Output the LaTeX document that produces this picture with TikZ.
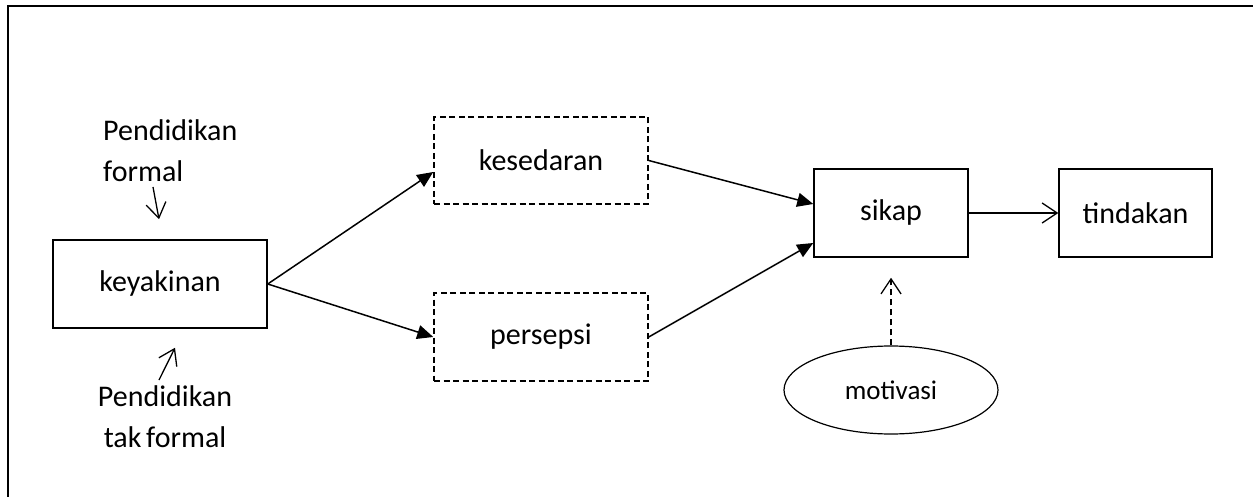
\documentclass[tikz,border=0pt]{standalone}
\usepackage{fontspec}
\setmainfont{Carlito}
\usetikzlibrary{arrows.meta,shapes.geometric}
\begin{document}
\begin{tikzpicture}[x=1pt,y=-1pt,
  box/.style={draw, line width=1.5pt, rectangle, inner sep=0pt, font=\fontsize{30}{36}\selectfont},
  dbox/.style={box, dash pattern=on 6pt off 3.5pt},
  lbl/.style={inner sep=0pt, font=\fontsize{30}{41}\selectfont},
  solidarrow/.style={line width=1.5pt, -{Triangle[length=16pt,width=14pt]}},
  openarrow/.style={line width=1.3pt, -{Straight Barb[length=15pt,width=20pt]}},
]
\useasboundingbox (0,0) rectangle (1253,497);
% frame (top and left only)
\draw[line width=2pt] (1260,6.5) -- (7.5,6.5) -- (7.5,505);

% boxes
\node[box, minimum width=214pt, minimum height=88pt] (key) at (160,284) {keyakinan};
\node[dbox, minimum width=214pt, minimum height=87pt] (kes) at (541,160.5) {kesedaran};
\node[dbox, minimum width=214pt, minimum height=88pt] (per) at (541,337) {persepsi};
\node[box, minimum width=154pt, minimum height=88pt] (sik) at (891,213) {sikap};
\node[box, minimum width=153pt, minimum height=88pt] (tin) at (1135.5,213) {tindakan};
\node[draw, ellipse, line width=1.2pt, inner sep=0pt, minimum width=214pt, minimum height=88pt,
      font=\fontsize{27}{32}\selectfont] (mot) at (891,390) {motivasi};

% labels
\node[lbl, align=left, anchor=north west] (pf) at (103,119) {Pendidikan\\formal};
\node[lbl, align=center, anchor=north] (ptf) at (165,385) {Pendidikan\\tak\hspace{-2pt} formal};

% connectors
\draw[solidarrow] (key.east) -- ([yshift=-11.5pt]kes.west);
\draw[solidarrow] (key.east) -- (per.west);
\draw[solidarrow] (kes.east) -- ([yshift=9pt]sik.west);
\draw[solidarrow] (per.east) -- ([yshift=-30pt]sik.west);
\draw[openarrow] (sik.east) -- (tin.west);
\draw[openarrow, dash pattern=on 6pt off 4pt] (mot.north) -- ([yshift=-20pt]sik.south);

\coordinate (fa) at (153,187);
\coordinate (tfa) at (159,380);
\draw[openarrow] (fa) -- ([xshift=-1pt,yshift=20pt]key.north);
\draw[openarrow] (tfa) -- ([xshift=15pt,yshift=-19pt]key.south);
\end{tikzpicture}
\end{document}
